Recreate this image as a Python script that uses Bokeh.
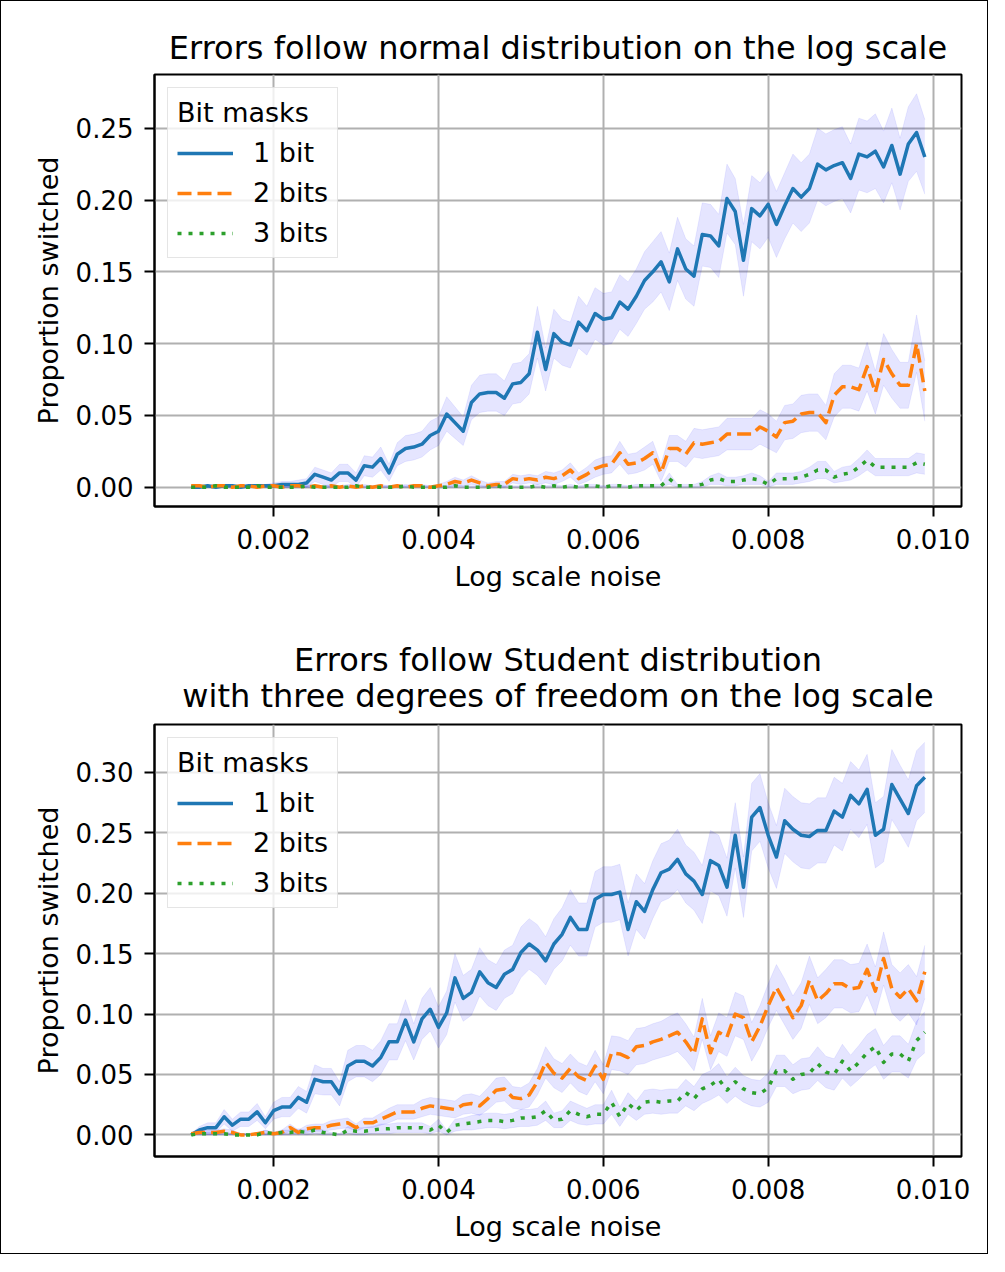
from bokeh.plotting import figure
from bokeh.layouts import column
from bokeh.models import Range1d, FixedTicker, NumeralTickFormatter, Title
from bokeh.embed import file_html
from bokeh.resources import INLINE

# ---------------- data ----------------
noise = [0.0010, 0.0011, 0.0012, 0.0013, 0.0014, 0.0015, 0.0016, 0.0017, 0.0018, 0.0019,
         0.0020, 0.0021, 0.0022, 0.0023, 0.0024, 0.0025, 0.0026, 0.0027, 0.0028, 0.0029,
         0.0030, 0.0031, 0.0032, 0.0033, 0.0034, 0.0035, 0.0036, 0.0037, 0.0038, 0.0039,
         0.0040, 0.0041, 0.0042, 0.0043, 0.0044, 0.0045, 0.0046, 0.0047, 0.0048, 0.0049,
         0.0050, 0.0051, 0.0052, 0.0053, 0.0054, 0.0055, 0.0056, 0.0057, 0.0058, 0.0059,
         0.0060, 0.0061, 0.0062, 0.0063, 0.0064, 0.0065, 0.0066, 0.0067, 0.0068, 0.0069,
         0.0070, 0.0071, 0.0072, 0.0073, 0.0074, 0.0075, 0.0076, 0.0077, 0.0078, 0.0079,
         0.0080, 0.0081, 0.0082, 0.0083, 0.0084, 0.0085, 0.0086, 0.0087, 0.0088, 0.0089,
         0.0090, 0.0091, 0.0092, 0.0093, 0.0094, 0.0095, 0.0096, 0.0097, 0.0098, 0.0099]

series_labels = ["1 bit", "2 bits", "3 bits"]
legend_title = "Bit masks"
x_ticks = [0.002, 0.004, 0.006, 0.008, 0.010]
y_ticks_normal = [0.00, 0.05, 0.10, 0.15, 0.20, 0.25]
y_ticks_student = [0.00, 0.05, 0.10, 0.15, 0.20, 0.25, 0.30]

# Normal errors: mean proportion switched
normal_1bit = [0.000, 0.000, 0.001, 0.000, 0.001, 0.001, 0.000, 0.001, 0.001, 0.001,
               0.001, 0.002, 0.002, 0.002, 0.003, 0.009, 0.007, 0.005, 0.010, 0.010,
               0.005, 0.015, 0.014, 0.020, 0.010, 0.023, 0.027, 0.028, 0.030, 0.036,
               0.039, 0.051, 0.045, 0.039, 0.059, 0.065, 0.066, 0.066, 0.062, 0.072,
               0.073, 0.079, 0.108, 0.082, 0.107, 0.101, 0.099, 0.115, 0.109, 0.121,
               0.117, 0.118, 0.129, 0.124, 0.133, 0.144, 0.150, 0.157, 0.143, 0.166,
               0.152, 0.147, 0.176, 0.175, 0.168, 0.201, 0.192, 0.158, 0.194, 0.189,
               0.197, 0.183, 0.196, 0.208, 0.202, 0.208, 0.225, 0.221, 0.224, 0.226,
               0.215, 0.232, 0.230, 0.234, 0.223, 0.238, 0.218, 0.239, 0.247, 0.230]
normal_2bits = [0.001, 0.001, 0.000, 0.001, 0.001, 0.000, 0.001, 0.001, 0.000, 0.001,
                0.001, 0.000, 0.001, 0.001, 0.000, 0.001, 0.000, 0.001, 0.000, 0.001,
                0.000, 0.001, 0.000, 0.001, 0.000, 0.001, 0.000, 0.001, 0.001, 0.000,
                0.001, 0.002, 0.004, 0.003, 0.005, 0.003, 0.001, 0.002, 0.002, 0.006,
                0.005, 0.006, 0.005, 0.007, 0.006, 0.008, 0.012, 0.006, 0.009, 0.013,
                0.015, 0.016, 0.024, 0.016, 0.017, 0.020, 0.024, 0.010, 0.027, 0.027,
                0.023, 0.031, 0.030, 0.031, 0.032, 0.037, 0.037, 0.037, 0.037, 0.042,
                0.039, 0.035, 0.045, 0.046, 0.051, 0.052, 0.052, 0.045, 0.064, 0.070,
                0.070, 0.068, 0.084, 0.066, 0.089, 0.079, 0.071, 0.071, 0.100, 0.067]
normal_3bits = [0.000, 0.000, 0.000, 0.001, 0.000, 0.000, 0.000, 0.000, 0.001, 0.000,
                0.000, 0.000, 0.000, 0.000, 0.001, 0.000, 0.000, 0.000, 0.000, 0.000,
                0.001, 0.000, 0.000, 0.000, 0.000, 0.000, 0.001, 0.000, 0.000, 0.000,
                0.000, 0.000, 0.001, 0.000, 0.000, 0.000, 0.000, 0.001, 0.000, 0.000,
                0.000, 0.000, 0.001, 0.000, 0.001, 0.000, 0.001, 0.000, 0.001, 0.001,
                0.000, 0.001, 0.001, 0.000, 0.001, 0.001, 0.001, 0.001, 0.006, 0.001,
                0.001, 0.001, 0.002, 0.005, 0.006, 0.004, 0.004, 0.005, 0.006, 0.005,
                0.002, 0.006, 0.006, 0.006, 0.007, 0.009, 0.012, 0.012, 0.007, 0.009,
                0.010, 0.014, 0.019, 0.014, 0.014, 0.014, 0.014, 0.014, 0.017, 0.016]
# half widths of the shaded intervals
normal_1bit_hw = [0.001, 0.001, 0.001, 0.001, 0.001, 0.001, 0.001, 0.001, 0.001, 0.001,
                  0.002, 0.002, 0.002, 0.003, 0.003, 0.005, 0.005, 0.005, 0.006, 0.006,
                  0.005, 0.007, 0.007, 0.008, 0.006, 0.008, 0.009, 0.009, 0.009, 0.010,
                  0.010, 0.012, 0.011, 0.010, 0.012, 0.013, 0.013, 0.013, 0.012, 0.014,
                  0.014, 0.014, 0.018, 0.015, 0.017, 0.016, 0.016, 0.018, 0.017, 0.018,
                  0.018, 0.018, 0.019, 0.019, 0.019, 0.020, 0.021, 0.021, 0.020, 0.022,
                  0.021, 0.021, 0.022, 0.022, 0.022, 0.024, 0.023, 0.025, 0.023, 0.023,
                  0.023, 0.023, 0.023, 0.024, 0.024, 0.024, 0.025, 0.025, 0.025, 0.025,
                  0.024, 0.025, 0.025, 0.026, 0.025, 0.026, 0.025, 0.026, 0.027, 0.026]
normal_2bits_hw = [0.001, 0.001, 0.001, 0.001, 0.001, 0.001, 0.001, 0.001, 0.001, 0.001,
                   0.001, 0.001, 0.001, 0.001, 0.001, 0.001, 0.001, 0.001, 0.001, 0.001,
                   0.001, 0.001, 0.001, 0.001, 0.001, 0.001, 0.001, 0.001, 0.001, 0.001,
                   0.001, 0.002, 0.003, 0.002, 0.003, 0.002, 0.002, 0.002, 0.002, 0.003,
                   0.003, 0.003, 0.003, 0.004, 0.004, 0.004, 0.005, 0.004, 0.005, 0.006,
                   0.006, 0.006, 0.008, 0.007, 0.007, 0.008, 0.008, 0.006, 0.009, 0.009,
                   0.009, 0.010, 0.010, 0.010, 0.010, 0.011, 0.011, 0.011, 0.011, 0.012,
                   0.012, 0.011, 0.012, 0.012, 0.013, 0.013, 0.013, 0.012, 0.015, 0.015,
                   0.015, 0.015, 0.017, 0.015, 0.018, 0.017, 0.016, 0.016, 0.020, 0.021]
normal_3bits_hw = [0.001, 0.001, 0.001, 0.001, 0.001, 0.001, 0.001, 0.001, 0.001, 0.001,
                   0.001, 0.001, 0.001, 0.001, 0.001, 0.001, 0.001, 0.001, 0.001, 0.001,
                   0.001, 0.001, 0.001, 0.001, 0.001, 0.001, 0.001, 0.001, 0.001, 0.001,
                   0.001, 0.001, 0.001, 0.001, 0.001, 0.001, 0.001, 0.001, 0.001, 0.001,
                   0.001, 0.001, 0.001, 0.001, 0.001, 0.001, 0.001, 0.001, 0.001, 0.001,
                   0.001, 0.001, 0.001, 0.001, 0.001, 0.001, 0.001, 0.001, 0.004, 0.001,
                   0.001, 0.001, 0.002, 0.003, 0.004, 0.003, 0.003, 0.003, 0.004, 0.003,
                   0.002, 0.004, 0.004, 0.004, 0.004, 0.005, 0.006, 0.006, 0.004, 0.005,
                   0.005, 0.006, 0.007, 0.006, 0.006, 0.006, 0.006, 0.006, 0.007, 0.007]

# Student (3 dof) errors
student_1bit = [0.000, 0.004, 0.006, 0.006, 0.015, 0.008, 0.013, 0.013, 0.019, 0.010,
                0.020, 0.023, 0.023, 0.031, 0.027, 0.046, 0.044, 0.044, 0.034, 0.057,
                0.061, 0.061, 0.057, 0.064, 0.077, 0.077, 0.095, 0.077, 0.096, 0.104,
                0.089, 0.101, 0.130, 0.113, 0.118, 0.135, 0.126, 0.122, 0.133, 0.137,
                0.151, 0.158, 0.153, 0.144, 0.158, 0.166, 0.180, 0.170, 0.170, 0.195,
                0.199, 0.199, 0.201, 0.170, 0.193, 0.185, 0.203, 0.217, 0.220, 0.228,
                0.216, 0.210, 0.199, 0.227, 0.223, 0.205, 0.248, 0.205, 0.263, 0.271,
                0.248, 0.230, 0.260, 0.253, 0.248, 0.247, 0.252, 0.252, 0.268, 0.263,
                0.281, 0.274, 0.286, 0.248, 0.253, 0.290, 0.278, 0.266, 0.289, 0.296]
student_2bits = [0.001, 0.002, 0.002, 0.002, 0.003, 0.002, 0.000, 0.000, 0.001, 0.002,
                 0.001, 0.002, 0.006, 0.002, 0.005, 0.006, 0.006, 0.008, 0.009, 0.010,
                 0.006, 0.010, 0.010, 0.013, 0.016, 0.019, 0.019, 0.019, 0.022, 0.024,
                 0.023, 0.022, 0.021, 0.025, 0.026, 0.024, 0.030, 0.037, 0.038, 0.031,
                 0.030, 0.033, 0.044, 0.060, 0.051, 0.047, 0.055, 0.048, 0.045, 0.057,
                 0.046, 0.068, 0.067, 0.064, 0.073, 0.074, 0.077, 0.079, 0.082, 0.085,
                 0.077, 0.067, 0.096, 0.068, 0.085, 0.081, 0.100, 0.097, 0.077, 0.090,
                 0.107, 0.122, 0.110, 0.097, 0.107, 0.128, 0.111, 0.117, 0.125, 0.125,
                 0.121, 0.122, 0.137, 0.119, 0.146, 0.121, 0.114, 0.121, 0.111, 0.135]
student_3bits = [0.000, 0.001, 0.001, 0.001, 0.001, 0.000, 0.000, 0.000, 0.000, 0.002,
                 0.001, 0.002, 0.002, 0.003, 0.002, 0.004, 0.002, 0.001, 0.000, 0.004,
                 0.003, 0.003, 0.004, 0.005, 0.005, 0.006, 0.006, 0.006, 0.006, 0.004,
                 0.008, 0.002, 0.008, 0.009, 0.010, 0.011, 0.012, 0.012, 0.011, 0.012,
                 0.014, 0.014, 0.015, 0.020, 0.012, 0.013, 0.020, 0.017, 0.015, 0.017,
                 0.017, 0.027, 0.015, 0.026, 0.020, 0.027, 0.028, 0.027, 0.028, 0.028,
                 0.035, 0.030, 0.038, 0.041, 0.046, 0.037, 0.044, 0.038, 0.035, 0.034,
                 0.039, 0.053, 0.053, 0.046, 0.050, 0.051, 0.059, 0.052, 0.050, 0.061,
                 0.053, 0.060, 0.068, 0.073, 0.060, 0.067, 0.067, 0.061, 0.078, 0.085]
student_1bit_hw = [0.001, 0.003, 0.004, 0.004, 0.006, 0.005, 0.006, 0.006, 0.007, 0.005,
                   0.007, 0.008, 0.008, 0.009, 0.009, 0.012, 0.011, 0.011, 0.010, 0.013,
                   0.013, 0.013, 0.013, 0.014, 0.015, 0.015, 0.017, 0.015, 0.017, 0.018,
                   0.017, 0.018, 0.020, 0.019, 0.019, 0.020, 0.019, 0.019, 0.020, 0.020,
                   0.021, 0.021, 0.021, 0.020, 0.021, 0.022, 0.023, 0.022, 0.022, 0.023,
                   0.023, 0.023, 0.023, 0.022, 0.023, 0.023, 0.024, 0.024, 0.024, 0.025,
                   0.024, 0.024, 0.024, 0.025, 0.025, 0.024, 0.027, 0.025, 0.028, 0.028,
                   0.027, 0.026, 0.027, 0.027, 0.027, 0.027, 0.027, 0.027, 0.028, 0.028,
                   0.028, 0.028, 0.029, 0.027, 0.027, 0.029, 0.028, 0.028, 0.029, 0.029]
student_2bits_hw = [0.001, 0.002, 0.002, 0.002, 0.002, 0.002, 0.001, 0.001, 0.001, 0.002,
                    0.001, 0.002, 0.003, 0.002, 0.003, 0.003, 0.003, 0.004, 0.004, 0.004,
                    0.003, 0.004, 0.004, 0.005, 0.006, 0.006, 0.006, 0.006, 0.007, 0.007,
                    0.007, 0.007, 0.007, 0.008, 0.008, 0.008, 0.009, 0.010, 0.010, 0.009,
                    0.009, 0.010, 0.011, 0.013, 0.012, 0.012, 0.012, 0.012, 0.012, 0.013,
                    0.012, 0.014, 0.014, 0.014, 0.015, 0.015, 0.015, 0.015, 0.016, 0.016,
                    0.015, 0.014, 0.017, 0.014, 0.016, 0.016, 0.018, 0.018, 0.016, 0.017,
                    0.018, 0.019, 0.019, 0.018, 0.019, 0.020, 0.019, 0.020, 0.020, 0.020,
                    0.020, 0.020, 0.021, 0.020, 0.022, 0.020, 0.020, 0.020, 0.020, 0.022]
student_3bits_hw = [0.001, 0.001, 0.001, 0.001, 0.001, 0.001, 0.001, 0.001, 0.001, 0.002,
                    0.001, 0.002, 0.002, 0.002, 0.002, 0.003, 0.002, 0.001, 0.001, 0.003,
                    0.003, 0.003, 0.003, 0.004, 0.004, 0.004, 0.004, 0.004, 0.004, 0.003,
                    0.005, 0.002, 0.005, 0.005, 0.006, 0.006, 0.006, 0.006, 0.006, 0.006,
                    0.007, 0.007, 0.007, 0.008, 0.006, 0.007, 0.008, 0.008, 0.007, 0.008,
                    0.008, 0.010, 0.008, 0.009, 0.008, 0.010, 0.010, 0.010, 0.010, 0.010,
                    0.011, 0.010, 0.012, 0.012, 0.013, 0.011, 0.012, 0.011, 0.011, 0.011,
                    0.012, 0.013, 0.013, 0.012, 0.013, 0.013, 0.014, 0.013, 0.013, 0.014,
                    0.013, 0.014, 0.015, 0.015, 0.014, 0.015, 0.015, 0.014, 0.016, 0.017]

# ---------------- styling ----------------
FONT = "DejaVu Sans"
COLORS = ["#1f77b4", "#ff7f0e", "#2ca02c"]
DASHES = ["solid", "14 6", "4 7"]
FIG_W = 986


def make_panel(title_text, title_standoff, means, hws, y_ticks, y_range, height, mb_top, mb_bottom):
    p = figure(width=FIG_W, height=height, title=None,
               x_range=Range1d(0.000555, 0.010345), y_range=Range1d(*y_range),
               output_backend="svg", toolbar_location=None,
               min_border_left=153, min_border_right=26,
               min_border_top=mb_top, min_border_bottom=mb_bottom)
    p.add_layout(Title(text=title_text, align="center", text_font=FONT,
                       text_font_size="32px", text_font_style="normal",
                       text_line_height=0.96, text_align="center",
                       text_color="black", standoff=title_standoff), "above")
    p.background_fill_color = "white"
    p.border_fill_color = "white"
    p.outline_line_color = "black"
    p.outline_line_width = 2
    p.outline_line_alpha = 1.0

    for mean, hw in zip(means, hws):
        lower = [max(0.0, m - h) for m, h in zip(mean, hw)]
        upper = [m + h for m, h in zip(mean, hw)]
        p.varea(x=noise, y1=lower, y2=upper, fill_color="blue", fill_alpha=0.1)
        p.line(x=noise, y=upper, line_color="blue", line_alpha=0.07, line_width=1)
        p.line(x=noise, y=lower, line_color="blue", line_alpha=0.07, line_width=1)
    for mean, lab, col, dash in zip(means, series_labels, COLORS, DASHES):
        p.line(x=noise, y=mean, line_color=col, line_width=3.5, line_dash=dash,
               line_join="round", legend_label=lab)

    p.xaxis.ticker = FixedTicker(ticks=x_ticks)
    p.xaxis.formatter = NumeralTickFormatter(format="0.000")
    p.yaxis.ticker = FixedTicker(ticks=y_ticks)
    p.yaxis.formatter = NumeralTickFormatter(format="0.00")
    p.xaxis.axis_label = "Log scale noise"
    p.yaxis.axis_label = "Proportion switched"
    for ax in (p.xaxis, p.yaxis):
        ax.axis_line_color = "black"
        ax.axis_line_width = 2
        ax.major_tick_line_color = "black"
        ax.major_tick_line_width = 2
        ax.major_tick_out = 10
        ax.major_tick_in = 0
        ax.minor_tick_line_color = None
        ax.major_label_text_font = FONT
        ax.major_label_text_font_size = "26px"
        ax.major_label_text_color = "black"
        ax.axis_label_text_font = FONT
        ax.axis_label_text_font_size = "27px"
        ax.axis_label_text_font_style = "normal"
        ax.axis_label_text_color = "black"
    p.xaxis.major_label_standoff = 12
    p.xaxis.axis_label_standoff = 9
    p.yaxis.major_label_standoff = 11
    p.yaxis.axis_label_standoff = 9
    p.grid.grid_line_color = "#b0b0b0"
    p.grid.grid_line_width = 2

    lg = p.legend[0]
    lg.title = legend_title
    lg.title_text_font = FONT
    lg.title_text_font_size = "27px"
    lg.title_text_font_style = "normal"
    lg.title_text_color = "black"
    lg.title_standoff = 9
    lg.location = "top_left"
    lg.margin = 13
    lg.padding = 9
    lg.spacing = 9
    lg.label_text_font = FONT
    lg.label_text_font_size = "27px"
    lg.label_text_color = "black"
    lg.label_height = 30
    lg.glyph_height = 30
    lg.glyph_width = 56
    lg.label_standoff = 20
    lg.border_line_color = "#cccccc"
    lg.border_line_width = 1.5
    lg.background_fill_alpha = 0.8
    return p


p1 = make_panel("Errors follow normal distribution on the log scale", 16,
                [normal_1bit, normal_2bits, normal_3bits],
                [normal_1bit_hw, normal_2bits_hw, normal_3bits_hw],
                y_ticks_normal, (-0.0134, 0.2874), 612, 73, 107)
p2 = make_panel("Errors follow Student distribution\nwith three degrees of freedom on the log scale", 18,
                [student_1bit, student_2bits, student_3bits],
                [student_1bit_hw, student_2bits_hw, student_3bits_hw],
                y_ticks_student, (-0.0179, 0.3397), 640, 111, 97)

layout = column(p1, p2, styles={"border": "1px solid black"})
open("out.html", "w").write(file_html(layout, INLINE))
